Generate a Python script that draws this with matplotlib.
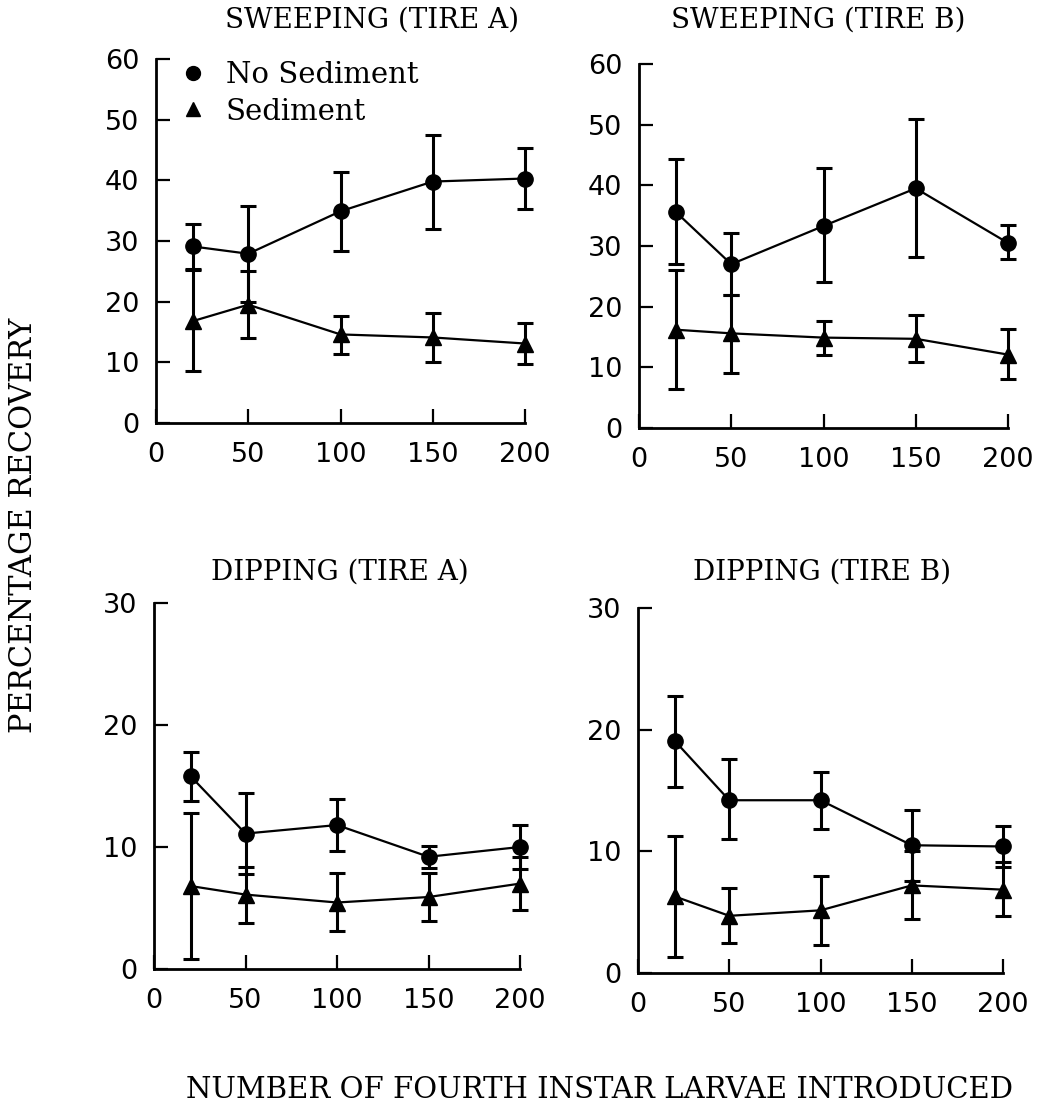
import matplotlib
matplotlib.use('Agg')
import matplotlib.pyplot as plt
from matplotlib.lines import Line2D
import numpy as np

# larvae introduced
larvas = [20, 50, 100, 150, 200]

# SWEEPING (TIRE A)
swA_nosed = [29.1, 27.9, 34.9, 39.8, 40.3]
swA_nosed_lo = [25.4, 20.0, 28.3, 32.0, 35.3]
swA_nosed_hi = [32.8, 35.8, 41.4, 47.4, 45.3]
swA_sed = [16.8, 19.5, 14.6, 14.1, 13.1]
swA_sed_lo = [8.6, 14.0, 11.3, 10.1, 9.8]
swA_sed_hi = [25.2, 25.1, 17.6, 18.2, 16.5]

# SWEEPING (TIRE B)
swB_nosed = [35.6, 27.0, 33.3, 39.5, 30.5]
swB_nosed_lo = [27.1, 21.9, 24.0, 28.2, 27.8]
swB_nosed_hi = [44.3, 32.2, 42.8, 50.9, 33.4]
swB_sed = [16.2, 15.6, 14.9, 14.7, 12.1]
swB_sed_lo = [6.5, 9.0, 12.0, 10.9, 8.1]
swB_sed_hi = [26.0, 22.0, 17.7, 18.7, 16.4]

# DIPPING (TIRE A)
dpA_nosed = [15.8, 11.1, 11.8, 9.2, 10.0]
dpA_nosed_lo = [13.8, 7.8, 9.7, 8.25, 8.2]
dpA_nosed_hi = [17.8, 14.4, 13.9, 10.1, 11.8]
dpA_sed = [6.8, 6.1, 5.45, 5.9, 7.0]
dpA_sed_lo = [0.8, 3.8, 3.1, 3.95, 4.85]
dpA_sed_hi = [12.8, 8.4, 7.85, 7.85, 9.15]

# DIPPING (TIRE B)
dpB_nosed = [19.1, 14.2, 14.2, 10.5, 10.4]
dpB_nosed_lo = [15.3, 11.0, 11.8, 7.6, 8.7]
dpB_nosed_hi = [22.8, 17.6, 16.5, 13.4, 12.1]
dpB_sed = [6.3, 4.7, 5.15, 7.2, 6.85]
dpB_sed_lo = [1.3, 2.5, 2.3, 4.4, 4.65]
dpB_sed_hi = [11.3, 7.0, 8.0, 10.0, 9.1]

W, H = 1049, 1110
serif = ['DejaVu Serif']


def ret(l, r, b, t):
    return [l / W, 1 - b / H, (r - l) / W, (b - t) / H]


def painel(ax, ns, ns_lo, ns_hi, s, s_lo, s_hi, ymax, yticks):
    for y, lo, hi, m in [(ns, ns_lo, ns_hi, 'o'), (s, s_lo, s_hi, '^')]:
        y = np.array(y)
        err = [y - np.array(lo), np.array(hi) - y]
        ax.errorbar(larvas, y, yerr=err, color='black', marker=m, markersize=11,
                    lw=1.6, elinewidth=2.2, capsize=6, capthick=2.2, clip_on=False, zorder=3)
    ax.set_xlim(0, 200)
    ax.set_ylim(0, ymax)
    ax.set_xticks([0, 50, 100, 150, 200])
    ax.set_yticks(yticks)
    for lado in ['top', 'right']:
        ax.spines[lado].set_visible(False)
    for lado in ['left', 'bottom']:
        ax.spines[lado].set_linewidth(2)
    ax.tick_params(direction='in', length=10, width=1.6, labelsize=19.5)
    ax.tick_params(axis='x', pad=14)
    ax.tick_params(axis='y', pad=12)


fig = plt.figure(figsize=(W / 100, H / 100), dpi=100)

ax1 = fig.add_axes(ret(156, 525, 423, 59))
painel(ax1, swA_nosed, swA_nosed_lo, swA_nosed_hi, swA_sed, swA_sed_lo, swA_sed_hi, 60, range(0, 61, 10))
ax2 = fig.add_axes(ret(639, 1008, 428, 64))
painel(ax2, swB_nosed, swB_nosed_lo, swB_nosed_hi, swB_sed, swB_sed_lo, swB_sed_hi, 60, range(0, 61, 10))
ax3 = fig.add_axes(ret(154, 520, 969, 603))
painel(ax3, dpA_nosed, dpA_nosed_lo, dpA_nosed_hi, dpA_sed, dpA_sed_lo, dpA_sed_hi, 30, range(0, 31, 10))
ax4 = fig.add_axes(ret(638, 1003, 973, 608))
painel(ax4, dpB_nosed, dpB_nosed_lo, dpB_nosed_hi, dpB_sed, dpB_sed_lo, dpB_sed_hi, 30, range(0, 31, 10))

handles = [Line2D([], [], color='black', marker='o', ls='none', markersize=10),
           Line2D([], [], color='black', marker='^', ls='none', markersize=10)]
ax1.legend(handles, ['No Sediment', 'Sediment'], loc='upper left', bbox_to_anchor=(0.07, 0.995),
           frameon=False, borderpad=0, borderaxespad=0, handlelength=0.8, handletextpad=0.7,
           labelspacing=0.3, prop={'family': serif, 'size': 21})

titulos = [('SWEEPING (TIRE A)', 372, 20), ('SWEEPING (TIRE B)', 818, 20),
           ('DIPPING (TIRE A)', 340, 572), ('DIPPING (TIRE B)', 822, 572)]
for txt, x, y in titulos:
    fig.text(x / W, 1 - y / H, txt, ha='center', va='center', family=serif, fontsize=20)

fig.text(24 / W, 1 - 525 / H, 'PERCENTAGE RECOVERY', rotation=90, ha='center', va='center',
         family=serif, fontsize=22)
fig.text(600 / W, 1 - 1090 / H, 'NUMBER OF FOURTH INSTAR LARVAE INTRODUCED', ha='center',
         va='center', family=serif, fontsize=21)

plt.savefig('out.png', dpi=100)
